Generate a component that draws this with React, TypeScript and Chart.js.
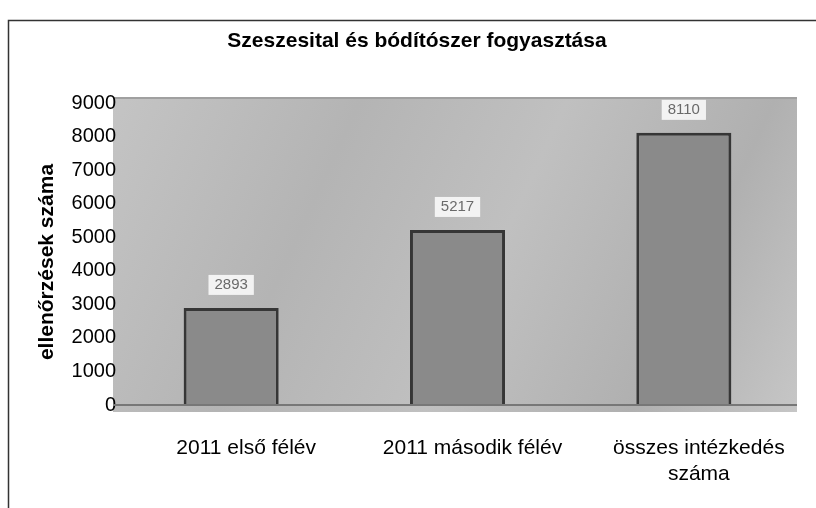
import React, { useEffect, useRef } from "react";
import { Chart, registerables } from "chart.js";

Chart.register(...registerables);

const TITLE = "Szeszesital és bódítószer fogyasztása";
const Y_TITLE = "ellenőrzések száma";
const CATEGORIES: (string | string[])[] = [
  "2011 első félév",
  "2011 második félév",
  ["összes intézkedés", "száma"],
];
const VALUES = [2893, 5217, 8110];
const Y_MIN = 0;
const Y_MAX = 9000;
const Y_STEP = 1000;

const FONT = "'Liberation Sans', Arial, sans-serif";

const decorPlugin = {
  id: "decor",
  beforeDraw(chart: any) {
    const { ctx, chartArea, width } = chart;
    ctx.save();
    // frame lines
    ctx.strokeStyle = "#333";
    ctx.lineWidth = 1.5;
    ctx.beginPath();
    ctx.moveTo(8.5, 508);
    ctx.lineTo(8.5, 20.5);
    ctx.lineTo(width, 20.5);
    ctx.stroke();
    // plot background
    const x0 = chartArea.left - 5;
    const y0 = chartArea.top - 6;
    const w = chartArea.right - x0;
    const h = chartArea.bottom + 7 - y0;
    const g = ctx.createLinearGradient(x0, y0, x0 + w, y0 + h);
    g.addColorStop(0, "#c4c4c4");
    g.addColorStop(0.3, "#b4b4b4");
    g.addColorStop(0.55, "#c0c0c0");
    g.addColorStop(0.8, "#b0b0b0");
    g.addColorStop(1, "#c6c6c6");
    ctx.fillStyle = g;
    ctx.fillRect(x0, y0, w, h);
    ctx.strokeStyle = "#a0a0a0";
    ctx.lineWidth = 2;
    ctx.beginPath();
    ctx.moveTo(x0, y0 + 1);
    ctx.lineTo(x0 + w, y0 + 1);
    ctx.stroke();
    // title
    ctx.fillStyle = "#000";
    ctx.font = `bold 21px ${FONT}`;
    ctx.textAlign = "center";
    ctx.textBaseline = "alphabetic";
    ctx.fillText(TITLE, 417, 47);
    // y title
    ctx.translate(53, 262);
    ctx.rotate(-Math.PI / 2);
    ctx.font = `bold 21px ${FONT}`;
    ctx.fillText(Y_TITLE, 0, 0);
    ctx.restore();
  },
  afterDatasetsDraw(chart: any) {
    const { ctx } = chart;
    const meta = chart.getDatasetMeta(0);
    const yScale = chart.scales.y;
    ctx.save();
    // zero line
    const zy = yScale.getPixelForValue(0);
    ctx.strokeStyle = "#777";
    ctx.lineWidth = 2;
    ctx.beginPath();
    ctx.moveTo(chart.chartArea.left - 5, zy);
    ctx.lineTo(chart.chartArea.right, zy);
    ctx.stroke();
    ctx.font = `15px ${FONT}`;
    ctx.textAlign = "center";
    ctx.textBaseline = "middle";
    meta.data.forEach((bar: any, i: number) => {
      const txt = String(VALUES[i]);
      const cy = bar.y - 23;
      const tw = ctx.measureText(txt).width;
      ctx.fillStyle = "rgba(245,245,245,0.95)";
      ctx.fillRect(bar.x - tw / 2 - 6, cy - 10, tw + 12, 20);
      ctx.fillStyle = "#6a6a6a";
      ctx.fillText(txt, bar.x, cy);
    });
    ctx.restore();
  },
};

export default function App() {
  const ref = useRef<HTMLCanvasElement>(null);
  useEffect(() => {
    if (!ref.current) return;
    const chart = new Chart(ref.current, {
      type: "bar",
      data: {
        labels: CATEGORIES,
        datasets: [
          {
            data: VALUES,
            backgroundColor: "#8a8a8a",
            borderColor: "#363636",
            borderWidth: 3,
            borderSkipped: "bottom",
            categoryPercentage: 1,
            barPercentage: 0.42,
          },
        ],
      },
      options: {
        responsive: false,
        animation: false,
        layout: { padding: { left: 0, right: 19, top: 103, bottom: 0 } },
        plugins: {
          legend: { display: false },
          title: { display: false },
          tooltip: { enabled: false },
        },
        scales: {
          x: {
            grid: { display: false, drawTicks: false },
            border: { display: false },
            ticks: {
              color: "#000",
              font: { family: FONT, size: 21, lineHeight: 1.2 },
              padding: 31,
              labelOffset: 15,
              maxRotation: 0,
              autoSkip: false,
            },
            afterFit(scale: any) {
              scale.height = 103;
            },
          },
          y: {
            min: Y_MIN,
            max: Y_MAX,
            grid: { display: false, drawTicks: false },
            border: { display: false },
            ticks: {
              stepSize: Y_STEP,
              color: "#000",
              font: { family: FONT, size: 20 },
              padding: 2,
              callback: (v: any) => String(v),
            },
            afterFit(scale: any) {
              scale.width = 118;
            },
          },
        },
      },
      plugins: [decorPlugin],
    });
    return () => chart.destroy();
  }, []);
  return (
    <div style={{ position: "fixed", left: 0, top: 0, width: 816, height: 508, background: "#fff" }}>
      <canvas ref={ref} width={816} height={508} />
    </div>
  );
}
